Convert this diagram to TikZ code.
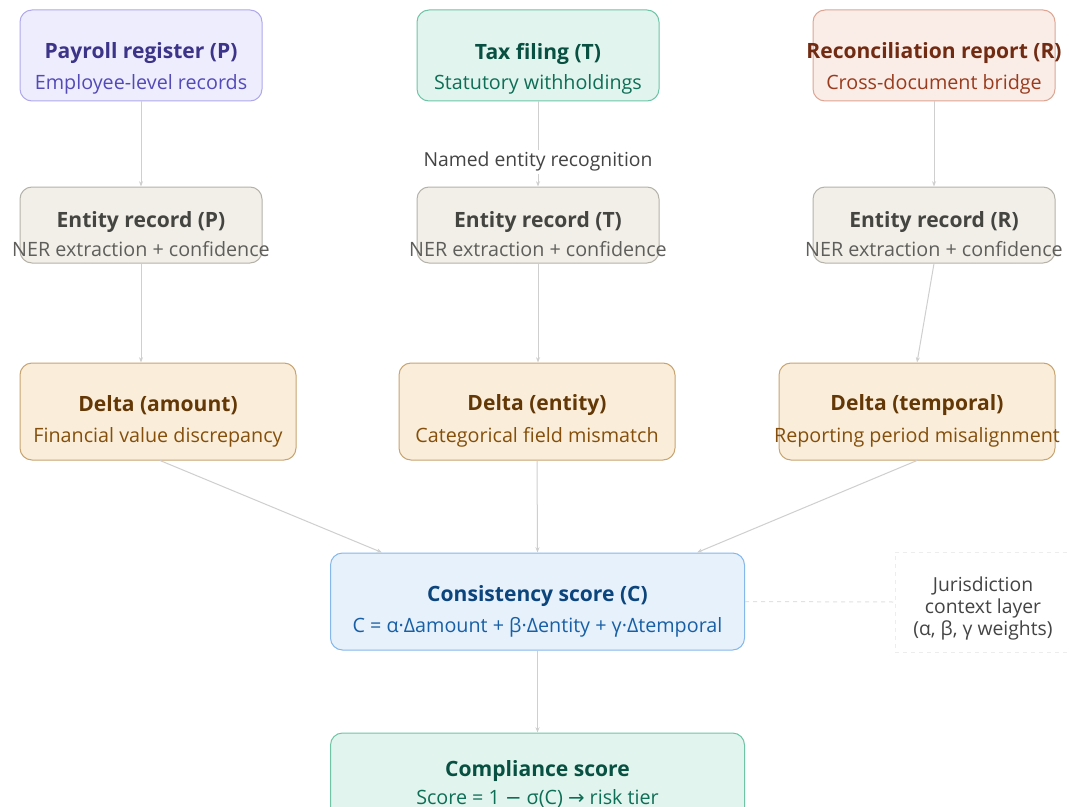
\documentclass[tikz,border=0pt]{standalone}
\usepackage{fontspec}
\setmainfont{Open Sans}
\newfontfamily\symf{DejaVu Sans}
\usetikzlibrary{arrows.meta,calc}
\definecolor{edgec}{HTML}{CFCFCF}
\definecolor{pfill}{HTML}{EEEDFE}\definecolor{pdraw}{HTML}{AFA9EC}\definecolor{ptit}{HTML}{3C3489}\definecolor{psub}{HTML}{534AB7}
\definecolor{tfill}{HTML}{E1F5EE}\definecolor{tdraw}{HTML}{6FC4A6}\definecolor{ttit}{HTML}{085041}\definecolor{tsub}{HTML}{0F6E56}
\definecolor{rfill}{HTML}{FAECE7}\definecolor{rdraw}{HTML}{DDA592}\definecolor{rtit}{HTML}{712B13}\definecolor{rsub}{HTML}{993C1D}
\definecolor{efill}{HTML}{F1EFE8}\definecolor{edraw}{HTML}{B4B2A9}\definecolor{etit}{HTML}{444441}\definecolor{esub}{HTML}{5F5E5A}
\definecolor{dfill}{HTML}{FAEEDA}\definecolor{ddraw}{HTML}{C8A470}\definecolor{dtit}{HTML}{633806}\definecolor{dsub}{HTML}{854F0B}
\definecolor{cfill}{HTML}{E6F1FB}\definecolor{cdraw}{HTML}{85B7EB}\definecolor{ctit}{HTML}{0C447C}\definecolor{csub}{HTML}{185FA5}
\definecolor{jtext}{HTML}{444444}
\tikzset{
  box/.style={draw, rounded corners=9pt, line width=0.75pt, inner sep=0pt},
  topbox/.style={box, minimum width=181.5pt, minimum height=68.25pt},
  entbox/.style={box, fill=efill, draw=edraw, minimum width=181.5pt, minimum height=57pt},
  delbox/.style={box, fill=dfill, draw=ddraw, minimum width=207pt, minimum height=72.75pt},
  widebox/.style={box, minimum width=310.5pt, minimum height=72.75pt},
  ttl/.style={inner sep=0pt, font=\fontsize{15.8}{18}\selectfont\bfseries},
  sub/.style={inner sep=0pt, font=\fontsize{14.8}{17}\selectfont},
  conn/.style={draw=edgec, line width=0.75pt, -{Stealth[length=4pt,width=3pt]}},
}
\begin{document}
\begin{tikzpicture}[x=0.75pt,y=-0.75pt]
\useasboundingbox (0,0) rectangle (1069,806);
\fill[white] (0,0) rectangle (1069,806);
% top row
\node[topbox, fill=pfill, draw=pdraw] (P) at (141,55.5) {};
\node[ttl, text=ptit] (Pt) at ($(P.north)+(0,44)$) {Payroll register (P)};
\node[sub, text=psub] (Ps) at ($(P.north)+(0,75)$) {Employee-level records};
\node[topbox, fill=tfill, draw=tdraw] (T) at (538,55.5) {};
\node[ttl, text=ttit] (Tt) at ($(T.north)+(0,44)$) {Tax filing (T)};
\node[sub, text=tsub] (Ts) at ($(T.north)+(0,75)$) {Statutory withholdings};
\node[topbox, fill=rfill, draw=rdraw] (R) at (934,55.5) {};
\node[ttl, text=rtit] (Rt) at ($(R.north)+(0,44)$) {Reconciliation report (R)};
\node[sub, text=rsub] (Rs) at ($(R.north)+(0,75)$) {Cross-document bridge};
% entity row
\node[entbox] (EP) at (141,225) {};
\node[ttl, text=etit] (EPt) at ($(EP.north)+(0,36)$) {Entity record (P)};
\node[sub, text=esub] (EPs) at ($(EP.north)+(0,63)$) {NER extraction + confidence};
\node[entbox] (ET) at (538,225) {};
\node[ttl, text=etit] (ETt) at ($(ET.north)+(0,36)$) {Entity record (T)};
\node[sub, text=esub] (ETs) at ($(ET.north)+(0,63)$) {NER extraction + confidence};
\node[entbox] (ER) at (934,225) {};
\node[ttl, text=etit] (ERt) at ($(ER.north)+(0,36)$) {Entity record (R)};
\node[sub, text=esub] (ERs) at ($(ER.north)+(0,63)$) {NER extraction + confidence};
% delta row
\node[delbox] (DA) at (158,411.5) {};
\node[ttl, text=dtit] (DAt) at ($(DA.north)+(0,43)$) {Delta (amount)};
\node[sub, text=dsub] (DAs) at ($(DA.north)+(0,75)$) {Financial value discrepancy};
\node[delbox] (DE) at (537,411.5) {};
\node[ttl, text=dtit] (DEt) at ($(DE.north)+(0,43)$) {Delta (entity)};
\node[sub, text=dsub] (DEs) at ($(DE.north)+(0,75)$) {Categorical field mismatch};
\node[delbox] (DT) at (917,411.5) {};
\node[ttl, text=dtit] (DTt) at ($(DT.north)+(0,43)$) {Delta (temporal)};
\node[sub, text=dsub] (DTs) at ($(DT.north)+(0,75)$) {Reporting period misalignment};
% consistency
\node[widebox, fill=cfill, draw=cdraw] (C) at (537.5,601.5) {};
\node[ttl, text=ctit] (Ct) at ($(C.north)+(0,44)$) {Consistency score (C)};
\node[sub, text=csub] (Cs) at ($(C.north)+(0,75)$) {C = α·Δamount + β·Δentity + γ·Δtemporal};
% compliance
\node[widebox, fill=tfill, draw=tdraw] (K) at (537.5,781.5) {};
\node[ttl, text=ttit] (Kt) at ($(K.north)+(0,39)$) {Compliance score};
\node[sub, text=tsub] (Ks) at ($(K.north)+(0,66)$) {Score = 1 {\symf−} σ(C) {\symf→} risk tier};
% jurisdiction
\node[draw=black!7, dashed, line width=0.75pt, minimum width=150pt, minimum height=75pt, inner sep=0pt] (J) at (995,602) {};
\node[inner sep=0pt, align=center, text=jtext, font=\fontsize{14.5}{16.5}\selectfont] (Jt) at (983,608) {Jurisdiction\\context layer\\(α, β, γ weights)};
% connectors
\draw[conn] (P.south) -- (EP.north);
\draw[conn] (T.south) -- node[fill=white, inner sep=2pt, text=jtext, font=\fontsize{14.5}{16}\selectfont, pos=0.71] (NER) {Named entity recognition} (ET.north);
\draw[conn] (R.south) -- (ER.north);
\draw[conn] (EP.south) -- (EP.south |- DA.north);
\draw[conn] (ET.south) -- (ET.south |- DE.north);
\draw[conn] (ER.south) -- (DT.north);
\coordinate (CinL) at ($(C.north west)+(52,0)$);
\coordinate (CinR) at ($(C.north east)+(-48,0)$);
\draw[conn] ($(DA.south)+(2,0)$) -- (CinL);
\draw[conn] (DE.south) -- (C.north);
\draw[conn] (DT.south) -- (CinR);
\draw[conn] (C.south) -- (K.north);
\draw[edgec!60, dashed, line width=0.75pt] (C.east) -- (J.west);
\end{tikzpicture}
\end{document}
